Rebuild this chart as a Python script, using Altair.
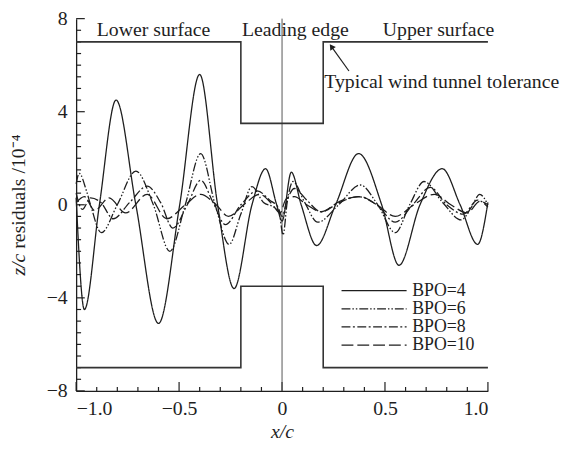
import altair as alt
import pandas as pd

# ---------------- data ----------------
bpo4_x = [-1.0, -0.96, -0.887, -0.806, -0.71, -0.60, -0.497, -0.40, -0.313, -0.233, -0.146,
          -0.08, -0.026, 0.0, 0.045, 0.093, 0.168, 0.26, 0.372, 0.484, 0.568, 0.67, 0.778,
          0.865, 0.95, 1.0]
bpo4_y = [0.3, -4.5, 0.0, 4.5, 0.0, -5.1, 0.0, 5.6, 0.0, -3.6, 0.0,
          1.55, 0.0, -0.7, 1.4, 0.0, -1.75, 0.0, 2.2, 0.0, -2.6, 0.0, 1.55,
          0.0, -1.7, 0.1]

bpo6_x = [-1.0, -0.985, -0.95, -0.93, -0.878, -0.80, -0.71, -0.625, -0.545, -0.47, -0.395,
          -0.325, -0.257, -0.20, -0.146, -0.09, -0.04, -0.015, 0.005, 0.025, 0.053, 0.11,
          0.173, 0.275, 0.38, 0.465, 0.55, 0.62, 0.69, 0.78, 0.87, 0.92, 0.96, 1.0]
bpo6_y = [0.9, 1.35, 0.6, 0.0, -1.2, 0.0, 1.45, 0.0, -2.0, 0.0, 2.2,
          0.0, -1.7, -0.4, 0.78, 0.1, -0.1, -0.3, -1.3, 0.1, 1.0, 0.1,
          -0.75, 0.0, 0.85, 0.0, -1.2, 0.0, 1.0, 0.1, -0.65, -0.1, 0.45, 0.0]

bpo8_x = [-1.0, -0.97, -0.93, -0.88, -0.82, -0.74, -0.655, -0.59, -0.53, -0.46, -0.395,
          -0.335, -0.275, -0.20, -0.12, -0.06, -0.02, 0.0, 0.025, 0.06, 0.12, 0.19, 0.28,
          0.37, 0.46, 0.55, 0.635, 0.72, 0.80, 0.88, 0.95, 1.0]
bpo8_y = [0.5, -0.2, 0.3, 0.1, -0.6, 0.1, 0.8, 0.1, -1.0, 0.0, 1.05,
          0.1, -0.85, 0.0, 0.6, 0.2, -0.1, -0.5, 0.2, 0.7, 0.2, -0.3, 0.1,
          0.35, 0.0, -0.75, 0.0, 0.75, 0.0, -0.4, 0.2, -0.1]

bpo10_x = [-1.0, -0.96, -0.91, -0.84, -0.76, -0.655, -0.56, -0.47, -0.395, -0.32, -0.26,
           -0.18, -0.11, -0.05, -0.01, 0.02, 0.06, 0.12, 0.19, 0.28, 0.38, 0.46, 0.55,
           0.64, 0.74, 0.82, 0.9, 0.96, 1.0]
bpo10_y = [0.1, 0.35, -0.25, 0.3, -0.35, 0.45, -0.6, 0.0, 0.45, 0.0, -0.5,
           0.05, 0.45, 0.05, -0.35, 0.25, 0.35, 0.0, -0.3, 0.15, 0.35, 0.0, -0.5,
           0.0, 0.45, 0.0, -0.35, 0.15, 0.0]

series_names = ["BPO=4", "BPO=6", "BPO=8", "BPO=10"]

tol_x = [-1.0, -0.2, -0.2, 0.2, 0.2, 1.0]
tol_upper = [7, 7, 3.5, 3.5, 7, 7]
tol_lower = [-7, -7, -3.5, -3.5, -7, -7]

x_tick_values = [-1.0, -0.9, -0.8, -0.7, -0.6, -0.5, -0.4, -0.3, -0.2, -0.1, 0.0,
                 0.1, 0.2, 0.3, 0.4, 0.5, 0.6, 0.7, 0.8, 0.9, 1.0]
x_major = [-1.0, -0.5, 0.0, 0.5, 1.0]
y_tick_values = [-8.0, -7.5, -7.0, -6.5, -6.0, -5.5, -5.0, -4.5, -4.0, -3.5, -3.0, -2.5,
                 -2.0, -1.5, -1.0, -0.5, 0.0, 0.5, 1.0, 1.5, 2.0, 2.5, 3.0, 3.5, 4.0,
                 4.5, 5.0, 5.5, 6.0, 6.5, 7.0, 7.5, 8.0]
y_major = [-8.0, -4.0, 0.0, 4.0, 8.0]

region_labels = ["Lower surface", "Leading edge", "Upper surface"]
region_x = [-0.624, 0.065, 0.76]
region_y = [7.25, 7.25, 7.25]

tol_label = "Typical wind tunnel tolerance"
tol_label_x = 0.205
tol_label_y = 5.0
arrow_x = [0.325, 0.24]
arrow_y = [5.75, 6.8]

legend_y = [-3.69, -4.47, -5.25, -6.03]
legend_x0 = 0.289
legend_x1 = 0.605
legend_text_x = 0.632

# ---------------- styles ----------------
FONT = "Liberation Serif"
FS = 20
LFS = 18
INK = "#1e1e1e"
dashes = {"BPO=4": [1, 0], "BPO=6": [9, 2, 1.5, 2, 1.5, 2], "BPO=8": [9, 2.5, 2, 2.5],
          "BPO=10": [12, 4]}

xs = alt.Scale(domain=[-1, 1], nice=False, zero=False)
ys = alt.Scale(domain=[-8, 8], nice=False, zero=False)
x_axis = alt.Axis(values=x_major, title="x/c", ticks=False, grid=False, labelPadding=8,
                  labelExpr="datum.value == 0 ? '0' : format(datum.value, '.1f')",
                  labelFont=FONT, labelFontSize=FS, labelColor=INK,
                  titleFont=FONT, titleFontSize=FS, titleFontWeight="normal",
                  titleFontStyle="italic", titleColor=INK, titlePadding=3,
                  domainColor=INK, domainWidth=1.3)
y_axis = alt.Axis(values=y_major, title=None, ticks=False, grid=False, labelPadding=9,
                  format="d", labelFont=FONT, labelFontSize=FS, labelColor=INK,
                  domainColor=INK, domainWidth=1.3)


def X(field):
    return alt.X(field, scale=xs, axis=x_axis, title="x/c")


def Y(field):
    return alt.Y(field, scale=ys, axis=y_axis, title=None)


layers = []

# tick rules (inward)
xt = pd.DataFrame({"x": x_tick_values})
xt["major"] = xt["x"].isin(x_major)
xt["y0"] = -8.0
xt["y1"] = -8.0 + xt["major"].map({True: 0.38, False: 0.17})
layers.append(alt.Chart(xt).mark_rule(color=INK, strokeWidth=1.2).encode(
    x=X("x:Q"), y=Y("y0:Q"), y2="y1:Q"))

yt = pd.DataFrame({"y": y_tick_values})
yt["major"] = yt["y"].isin(y_major)
yt["x0"] = -1.0
yt["x1"] = -1.0 + yt["major"].map({True: 0.042, False: 0.024})
layers.append(alt.Chart(yt).mark_rule(color=INK, strokeWidth=1.2).encode(
    y=Y("y:Q"), x=X("x0:Q"), x2="x1:Q"))

# zero vertical line
layers.append(alt.Chart(pd.DataFrame({"x": [0.0], "y0": [-8.0], "y1": [8.0]})).mark_rule(
    color="#555", strokeWidth=1).encode(x=X("x:Q"), y=Y("y0:Q"), y2="y1:Q"))

# tolerance lines
for ty in (tol_upper, tol_lower):
    tdf = pd.DataFrame({"x": tol_x, "y": ty, "o": list(range(len(tol_x)))})
    layers.append(alt.Chart(tdf).mark_line(color="#333", strokeWidth=1.6).encode(
        x=X("x:Q"), y=Y("y:Q"), order="o:Q"))

# curves
for name, cx, cy in zip(series_names, [bpo4_x, bpo6_x, bpo8_x, bpo10_x],
                        [bpo4_y, bpo6_y, bpo8_y, bpo10_y]):
    cdf = pd.DataFrame({"x": cx, "y": cy})
    layers.append(alt.Chart(cdf).mark_line(
        color=INK, strokeWidth=1.3, strokeDash=dashes[name], interpolate="monotone").encode(
        x=X("x:Q"), y=Y("y:Q")))

# legend
for name, ly in zip(series_names, legend_y):
    ldf = pd.DataFrame({"x0": [legend_x0], "x1": [legend_x1], "y": [ly],
                        "tx": [legend_text_x], "label": [name]})
    layers.append(alt.Chart(ldf).mark_rule(color=INK, strokeWidth=1.3,
                                           strokeDash=dashes[name]).encode(
        x=X("x0:Q"), x2="x1:Q", y=Y("y:Q")))
    layers.append(alt.Chart(ldf).mark_text(font=FONT, fontSize=LFS, color=INK, align="left",
                                           baseline="middle").encode(
        x=X("tx:Q"), y=Y("y:Q"), text="label:N"))

# region labels
rdf = pd.DataFrame({"x": region_x, "y": region_y, "t": region_labels})
layers.append(alt.Chart(rdf).mark_text(font=FONT, fontSize=FS, color=INK, align="center",
                                       baseline="alphabetic").encode(
    x=X("x:Q"), y=Y("y:Q"), text="t:N"))

# tolerance annotation + arrow
tldf = pd.DataFrame({"x": [tol_label_x], "y": [tol_label_y], "t": [tol_label]})
layers.append(alt.Chart(tldf).mark_text(font=FONT, fontSize=FS, color=INK, align="left",
                                        baseline="alphabetic").encode(
    x=X("x:Q"), y=Y("y:Q"), text="t:N"))
adf = pd.DataFrame({"x": arrow_x, "y": arrow_y, "o": [0, 1]})
layers.append(alt.Chart(adf).mark_line(color=INK, strokeWidth=1.2).encode(
    x=X("x:Q"), y=Y("y:Q"), order="o:Q"))
hdf = pd.DataFrame({"x": [arrow_x[1]], "y": [arrow_y[1]]})
layers.append(alt.Chart(hdf).mark_point(shape="triangle-up", filled=True, size=45, color=INK,
                                        opacity=1, angle=326).encode(
    x=X("x:Q"), y=Y("y:Q")))

# y-axis title (italic z/c + upright remainder)
ytdf = pd.DataFrame({"x": [-1.275], "y": [-2.1]})
layers.append(alt.Chart(ytdf).mark_text(text="z/c", font=FONT, fontSize=FS, fontStyle="italic",
                                        color=INK, angle=270, align="right",
                                        baseline="middle").encode(
    x=X("x:Q"), y=Y("y:Q")))
layers.append(alt.Chart(ytdf).mark_text(text="residuals /10\u207b\u2074", font=FONT, fontSize=FS,
                                        color=INK, angle=270, align="left", dx=5,
                                        baseline="middle").encode(
    x=X("x:Q"), y=Y("y:Q")))

chart = alt.layer(*layers).properties(
    width=417, height=377,
    background="white",
    autosize=alt.AutoSizeParams(type="none"),
    padding={"left": 69, "top": 8, "right": 74, "bottom": 53},
).configure_view(stroke=None)

chart.save("out.html", embed_options={"renderer": "svg", "actions": False})
